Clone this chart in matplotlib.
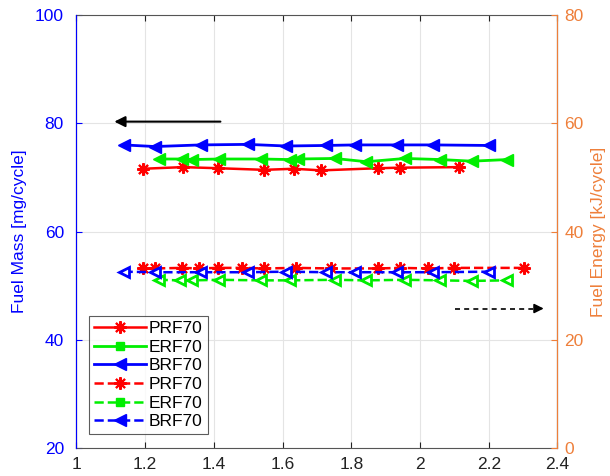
import numpy as np
import matplotlib
matplotlib.use('Agg')
import matplotlib.pyplot as plt
from matplotlib.lines import Line2D

plt.rcParams['font.family'] = ['Liberation Sans', 'DejaVu Sans']

# Fuel mass (solid lines, left axis)
prf_x = [1.193, 1.310, 1.412, 1.546, 1.634, 1.712, 1.878, 1.941, 2.114]
prf_mass = [71.6, 71.9, 71.7, 71.4, 71.6, 71.3, 71.7, 71.8, 71.9]
erf_x = [1.239, 1.307, 1.337, 1.415, 1.537, 1.620, 1.644, 1.751, 1.844, 1.956, 2.059, 2.151, 2.254]
erf_mass = [73.4, 73.4, 73.3, 73.4, 73.4, 73.3, 73.4, 73.5, 72.9, 73.5, 73.3, 73.0, 73.3]
brf_x = [1.137, 1.229, 1.361, 1.498, 1.610, 1.727, 1.810, 1.932, 2.039, 2.200]
brf_mass = [76.0, 75.7, 76.0, 76.1, 75.8, 75.9, 76.0, 76.0, 76.0, 75.9]

# Fuel energy (dashed lines, right axis)
prf_x2 = [1.193, 1.229, 1.307, 1.356, 1.412, 1.483, 1.546, 1.639, 1.741, 1.878, 1.941, 2.024, 2.098, 2.302]
prf_energy = [33.2, 33.2, 33.3, 33.2, 33.3, 33.3, 33.2, 33.3, 33.2, 33.2, 33.3, 33.2, 33.3, 33.3]
erf_x2 = [1.239, 1.300, 1.337, 1.415, 1.537, 1.620, 1.751, 1.844, 1.956, 2.059, 2.151, 2.254]
erf_energy = [31.1, 31.0, 31.0, 31.1, 31.0, 31.0, 31.1, 31.0, 31.1, 31.0, 30.9, 31.0]
brf_energy = [32.6, 32.5, 32.5, 32.5, 32.6, 32.5, 32.5, 32.5, 32.5, 32.6]

blue = '#0000ff'
orange = '#ee7f3a'
red = '#ff0000'
green = '#00ee00'
star = (8, 2, 0)  # asterisk marker

fig = plt.figure(figsize=(6.1, 4.76), dpi=100)
ax = fig.add_axes([0.1254, 0.0582, 0.7885, 0.9105])
ax2 = ax.twinx()

ax.plot(prf_x, prf_mass, '-', color=red, marker=star, ms=9, mew=1.5, lw=1.8)
ax.plot(erf_x, erf_mass, '-', color=green, marker='<', ms=8, lw=2)
ax.plot(brf_x, brf_mass, '-', color=blue, marker='<', ms=9, lw=2)

ax2.plot(prf_x2, prf_energy, '--', color=red, marker=star, ms=9, mew=1.5, lw=1.8)
ax2.plot(erf_x2, erf_energy, '--', color=green, marker='<', ms=7, lw=1.8,
         mfc='white', mew=2)
ax2.plot(brf_x, brf_energy, '--', color=blue, marker='<', ms=7, lw=1.8,
         mfc='white', mew=2)

ax.set_xlim(1, 2.4)
ax.set_ylim(20, 100)
ax2.set_ylim(0, 80)
ax.set_xticks(np.arange(1, 2.41, 0.2))
ax.set_xticklabels(['1', '1.2', '1.4', '1.6', '1.8', '2', '2.2', '2.4'])
ax.set_yticks([20, 40, 60, 80, 100])
ax2.set_yticks([0, 20, 40, 60, 80])

ax.grid(True, color='#e4e4e4', lw=0.8)
ax.set_axisbelow(True)
ax.tick_params(axis='x', direction='in', top=True, labelsize=12.5, colors='#222222',
               length=4, pad=6)
ax.tick_params(axis='y', direction='in', labelsize=12.5, colors=blue, length=4, pad=9)
ax2.tick_params(axis='y', direction='in', labelsize=12.5, colors=orange, length=4, pad=5)
for s in ['top', 'bottom']:
    ax.spines[s].set_color('#555555')
ax2.spines['left'].set_color(blue)
ax2.spines['right'].set_color(orange)
ax2.spines['top'].set_visible(False)
ax2.spines['bottom'].set_visible(False)

ax.set_ylabel('Fuel Mass [mg/cycle]', color=blue, fontsize=12.5, labelpad=6)
ax2.set_ylabel('Fuel Energy [kJ/cycle]', color=orange, fontsize=12.5, labelpad=5)

# direction arrows
ax.annotate('', xy=(1.102, 80.3), xytext=(1.427, 80.3),
            arrowprops=dict(arrowstyle='-|>', color='black', lw=1.5,
                            mutation_scale=16))
ax.plot([2.102, 2.33], [45.8, 45.8], '--', color='black', lw=1.2, dashes=(3, 2.5))
ax.annotate('', xy=(2.368, 45.8), xytext=(2.33, 45.8),
            arrowprops=dict(arrowstyle='-|>', color='black', lw=1.2,
                            mutation_scale=14))

handles = [
    Line2D([], [], color=red, ls='-', marker=star, ms=9, mew=1.5, lw=1.8),
    Line2D([], [], color=green, ls='-', marker='s', ms=6, lw=2),
    Line2D([], [], color=blue, ls='-', marker='<', ms=8, lw=2),
    Line2D([], [], color=red, ls='--', marker=star, ms=9, mew=1.5, lw=1.8),
    Line2D([], [], color=green, ls='--', marker='s', ms=6, lw=1.8),
    Line2D([], [], color=blue, ls='--', marker='<', ms=8, lw=1.8),
]
labels = ['PRF70', 'ERF70', 'BRF70', 'PRF70', 'ERF70', 'BRF70']
leg = ax2.legend(handles, labels, loc='lower left', bbox_to_anchor=(0.026, 0.032),
                 borderaxespad=0, fontsize=12.5, frameon=True, fancybox=False,
                 edgecolor='#333333', handlelength=3.0, handletextpad=0.15,
                 labelspacing=0.2, borderpad=0.3)
leg.get_frame().set_linewidth(0.8)

fig.savefig('out.png', dpi=100)
